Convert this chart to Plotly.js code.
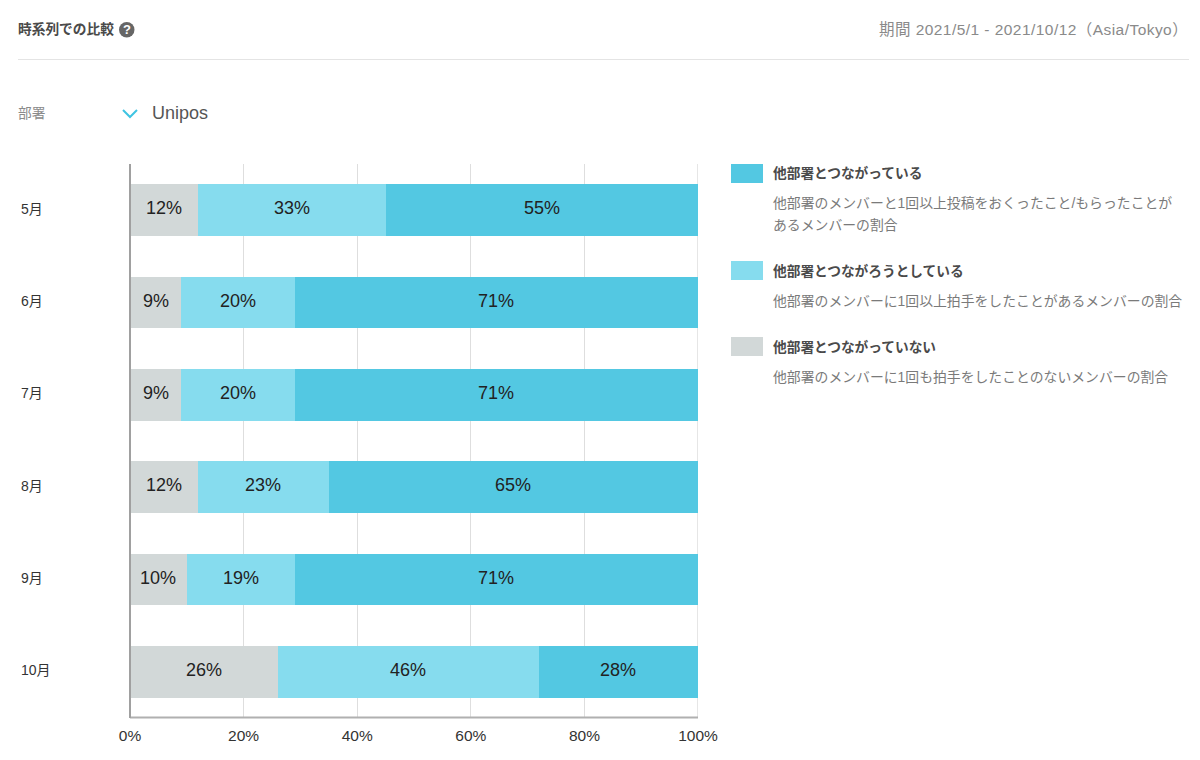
<!DOCTYPE html>
<html>
<head>
<meta charset="utf-8">
<script src="https://cdn.plot.ly/plotly-3.0.0.min.js"></script>
<style>html,body{margin:0;padding:0;background:#fff}#c{width:1200px;height:760px}</style>
</head>
<body>
<div id="c"></div>
<script>
const months = ['5月','6月','7月','8月','9月','10月'];
const notConnected = [12,9,9,12,10,26];
const trying = [33,20,20,23,19,46];
const connected = [55,71,71,65,71,28];
const seriesNames = ['他部署とつながっていない','他部署とつながろうとしている','他部署とつながっている'];
const xTicks = [0,20,40,60,80,100];

const FONT = '"Liberation Sans","Noto Sans CJK JP",sans-serif';
const W=1200,H=760,L=130,R=698,T=164,B=718;
const px = x => (x-L)/(R-L);
const py = y => (B-y)/(B-T);

const colors = ['#d2d8d8','#86dcee','#53c8e2'];
const vals = [notConnected,trying,connected];
const traces = vals.map((v,i)=>({
  type:'bar',orientation:'h',name:seriesNames[i],y:months,x:v,
  marker:{color:colors[i],line:{width:0}},
  width:0.563,hoverinfo:'skip'
}));

function note(x,y,text,size,color,extra){
  return Object.assign({xref:'paper',yref:'paper',x:px(x),y:py(y),text:text,showarrow:false,
    xanchor:'left',yanchor:'middle',align:'left',borderpad:0,
    font:{family:FONT,size:size,color:color}},extra||{});
}
function rect(x0,y0,x1,y1,color){
  return {type:'rect',xref:'paper',yref:'paper',x0:px(x0),x1:px(x1),y0:py(y0),y1:py(y1),
    fillcolor:color,line:{width:0},layer:'above'};
}
function seg(x0,y0,x1,y1,color,width){
  return {type:'line',xref:'paper',yref:'paper',x0:px(x0),x1:px(x1),y0:py(y0),y1:py(y1),
    line:{color:color,width:width},layer:'above'};
}

const barLabels = [];
months.forEach((m,k)=>{
  let start = 0;
  vals.forEach(v=>{
    barLabels.push({xref:'x',yref:'y',x:start+v[k]/2,y:m,text:v[k]+'%',showarrow:false,
      xanchor:'center',yanchor:'middle',yshift:2,font:{family:FONT,size:18,color:'#222'}});
    start += v[k];
  });
});

const annotations = [
  note(17,29,'<b>時系列での比較</b>',13.7,'#4a4a4a'),
  note(126.5,29.5,'<b>?</b>',13,'#ffffff',{xanchor:'center'}),
  note(878,29,'<span style="letter-spacing:0.45px">期間 2021/5/1 - 2021/10/12（Asia/Tokyo）</span>',15.5,'#8a8a8a'),
  note(17,113,'部署',13.7,'#8a8a8a'),
  note(151,113,'Unipos',18,'#555555'),
  note(772,173,'<b>他部署とつながっている</b>',13.7,'#4a4a4a'),
  note(772,203,'他部署のメンバーと1回以上投稿をおくったこと/もらったことが',13.85,'#7a7a7a'),
  note(772,225,'あるメンバーの割合',13.85,'#7a7a7a'),
  note(772,270.5,'<b>他部署とつながろうとしている</b>',13.7,'#4a4a4a'),
  note(772,300.5,'他部署のメンバーに1回以上拍手をしたことがあるメンバーの割合',13.85,'#7a7a7a'),
  note(772,346.5,'<b>他部署とつながっていない</b>',13.7,'#4a4a4a'),
  note(772,377,'他部署のメンバーに1回も拍手をしたことのないメンバーの割合',13.85,'#7a7a7a')
].concat(months.map(m=>({
  xref:'paper',yref:'y',x:px(19),y:m,text:m,showarrow:false,xanchor:'left',yanchor:'middle',
  yshift:1.5,font:{family:FONT,size:14,color:'#333'}
}))).concat(barLabels);

const shapes = [
  seg(18,59.5,1189,59.5,'#e4e4e4',1),
  {type:'circle',xref:'paper',yref:'paper',x0:px(119),x1:px(134.5),y0:py(22),y1:py(37.5),fillcolor:'#666666',line:{width:0}},
  {type:'path',xref:'paper',yref:'paper',
    path:`M ${px(123)} ${py(110)} L ${px(130)} ${py(117)} L ${px(137)} ${py(110)}`,
    line:{color:'#3fc4e2',width:2},fillcolor:'rgba(0,0,0,0)'},
  rect(731,164,763,183,colors[2]),
  rect(731,261,763,280,colors[1]),
  rect(731,337,763,356,colors[0]),
  {type:'line',xref:'x',yref:'paper',x0:100,x1:100,y0:0,y1:1,line:{color:'#dedede',width:1.5},layer:'below'},
  seg(130,717.5,698,717.5,'#b0b0b0',2),
  seg(130,164,130,718,'#a0a0a0',2)
];

const layout = {
  width:W,height:H,paper_bgcolor:'#fff',plot_bgcolor:'#fff',
  margin:{l:L,r:W-R,t:T,b:H-B,pad:0},
  barmode:'stack',showlegend:false,
  font:{family:FONT,color:'#333'},
  xaxis:{range:[0,100],tickvals:xTicks,ticktext:xTicks.map(v=>v+'%'),
    showgrid:true,gridcolor:'#dedede',gridwidth:1.2,zeroline:false,
    showline:false,ticks:'outside',ticklen:3,tickcolor:'rgba(0,0,0,0)',
    tickfont:{family:FONT,size:15.5,color:'#333'},fixedrange:true},
  yaxis:{type:'category',categoryorder:'array',categoryarray:months,autorange:'reversed',
    showgrid:false,zeroline:false,showline:false,ticks:'',showticklabels:false,fixedrange:true},
  annotations:annotations,shapes:shapes
};
Plotly.newPlot('c',traces,layout,{displayModeBar:false,responsive:false});
</script>
</body>
</html>
